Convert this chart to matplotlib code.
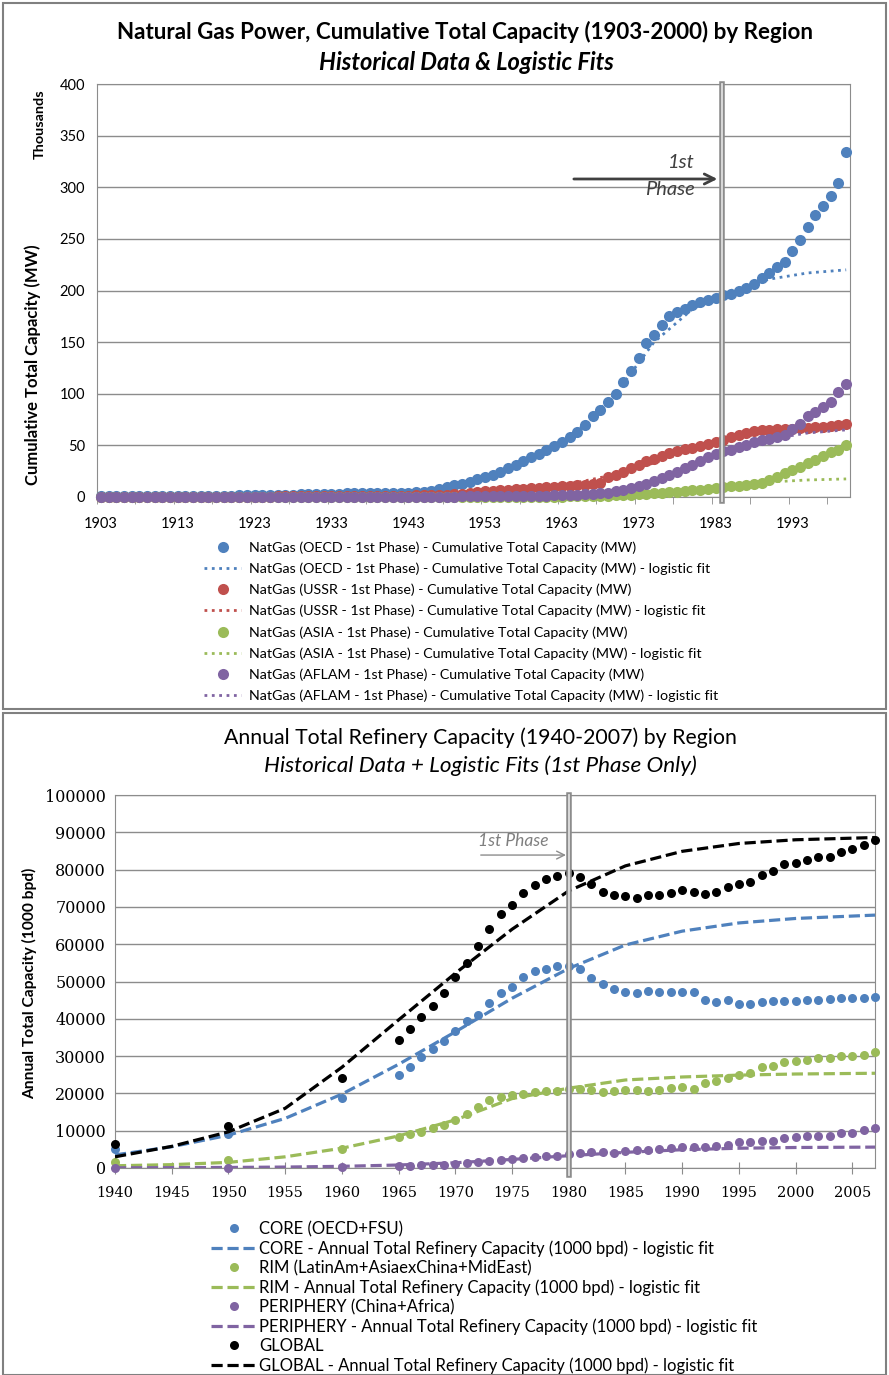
import matplotlib
matplotlib.use('Agg')
import matplotlib.pyplot as plt
from matplotlib.patches import Rectangle

# ---------------- top chart data: natural gas power (thousand MW) ----------------
gas_years = list(range(1903, 2001))

oecd = [0.5, 0.5, 0.6, 0.6, 0.7, 0.7, 0.8, 0.8, 0.9, 0.9,
        1.0, 1.0, 1.1, 1.1, 1.2, 1.2, 1.3, 1.4, 1.5, 1.6,
        1.7, 1.8, 1.9, 2.0, 2.2, 2.4, 2.6, 2.8, 3.0, 3.1,
        3.2, 3.3, 3.4, 3.5, 3.6, 3.7, 3.8, 3.9, 4.0, 4.1,
        4.3, 4.5, 5.0, 6.0, 7.5, 9.5, 11.5, 13.0, 15.0, 17.0,
        19.0, 21.0, 24.5, 28.0, 31.0, 35.0, 39.0, 42.0, 46.0, 49.5,
        53.5, 58.0, 63.0, 70.0, 78.0, 84.0, 92.0, 100.0, 111.0, 122.0,
        135.0, 149.0, 157.0, 167.0, 175.0, 179.0, 182.5, 185.5, 188.5, 190.5,
        193.0, 195.5, 197.0, 199.5, 202.5, 206.5, 212.0, 217.0, 222.5, 228.0,
        238.5, 249.0, 261.5, 273.0, 282.0, 291.5, 304.0, 334.0]
ussr = [0.2, 0.2, 0.2, 0.2, 0.2, 0.2, 0.2, 0.2, 0.2, 0.2,
        0.3, 0.3, 0.3, 0.3, 0.3, 0.3, 0.3, 0.3, 0.4, 0.4,
        0.4, 0.4, 0.4, 0.5, 0.5, 0.5, 0.5, 0.6, 0.6, 0.7,
        0.7, 0.8, 0.8, 0.9, 0.9, 1.0, 1.0, 1.1, 1.2, 1.3,
        1.4, 1.5, 1.7, 1.9, 2.1, 2.4, 2.7, 3.0, 3.5, 4.5,
        5.5, 6.0, 6.5, 7.0, 7.5, 8.0, 8.5, 9.0, 9.5, 10.0,
        10.5, 11.0, 11.5, 12.0, 13.0, 14.0, 19.5, 21.0, 24.0, 28.0,
        31.0, 35.0, 37.0, 40.0, 42.5, 45.0, 46.5, 47.5, 49.0, 51.0,
        53.5, 55.5, 58.0, 60.0, 62.0, 63.5, 64.5, 65.0, 65.5, 65.5,
        66.0, 66.5, 67.0, 67.5, 68.0, 68.5, 69.5, 70.5]
asia = [0.0] * 54 + [0.1, 0.1, 0.2,
        0.2, 0.3, 0.3, 0.4, 0.5, 0.6, 0.7, 0.8, 1.0, 1.2,
        1.5, 1.7, 2.0, 2.5, 3.0, 3.5, 4.0, 4.5, 5.0, 5.8,
        6.5, 7.2, 8.0, 8.7, 9.5, 10.2, 11.0, 11.6, 12.5, 14.0,
        16.5, 19.0, 23.0, 26.0, 29.0, 32.5, 36.0, 40.0, 43.5, 46.0, 50.0]
aflam = [0.1] * 38 + [0.2, 0.2, 0.2, 0.2, 0.3, 0.3, 0.3, 0.4, 0.4, 0.5,
         0.5, 0.6, 0.6, 0.7, 0.7, 0.8, 0.8, 0.9, 1.0, 1.0,
         1.2, 1.5, 1.8, 2.0, 2.3, 2.6, 3.0, 3.5, 4.2, 5.5,
         7.0, 8.7, 11.0, 13.0, 15.5, 18.0, 21.0, 24.0, 28.0, 31.0,
         35.0, 39.0, 42.0, 44.5, 46.0, 48.5, 50.5, 53.0, 55.0, 56.5,
         58.0, 60.0, 66.0, 71.0, 78.5, 82.5, 87.5, 92.0, 102.0, 109.0]

gas_fit_years = [1903, 1910, 1920, 1930, 1940, 1945, 1950, 1955, 1960, 1965,
                 1970, 1975, 1980, 1985, 1990, 1995, 2000]
oecd_fit = [0.3, 0.5, 0.9, 1.5, 4.0, 7.0, 13.0, 24.0, 42.0, 64.0,
            100.0, 150.0, 182.0, 200.0, 211.0, 217.0, 220.0]
ussr_fit = [0.0, 0.1, 0.2, 0.5, 1.5, 2.2, 3.5, 6.0, 9.0, 14.0,
            22.0, 33.0, 46.0, 56.0, 63.0, 67.0, 69.0]
asia_fit = [0.0, 0.0, 0.0, 0.0, 0.0, 0.0, 0.0, 0.1, 0.2, 0.6,
            1.5, 3.5, 7.0, 11.0, 14.5, 16.5, 17.5]
aflam_fit = [0.0, 0.0, 0.0, 0.1, 0.1, 0.2, 0.3, 0.6, 1.0, 2.5,
             6.0, 15.0, 30.0, 45.0, 56.0, 62.0, 65.0]

gas_names = ['OECD', 'USSR', 'ASIA', 'AFLAM']

# ---------------- bottom chart data: refinery capacity (1000 bpd) ----------------
ref_years = [1940, 1950, 1960] + list(range(1965, 2008))
core = [5000, 9100, 18700,
        24900, 27200, 29800, 31800, 34100, 36800, 39500, 41000, 44200, 47000,
        48600, 51300, 52800, 53300, 54200, 54200, 53300, 50900, 49300, 47900,
        47300, 46800, 47500, 47100, 47100, 47100, 47100, 45000, 44600, 45000,
        44100, 44100, 44600, 44800, 44800, 44800, 45000, 45000, 45200, 45700,
        45700, 45700, 45900]
rim = [1500, 2100, 5100,
       8400, 9100, 9700, 10600, 11500, 13000, 14400, 16400, 18100, 19100,
       19600, 19800, 20500, 20700, 20700, 21100, 21100, 20900, 20500, 20700,
       20900, 20900, 20700, 20900, 21400, 21600, 21100, 22700, 23400, 24000,
       24900, 25400, 27000, 27400, 28500, 28700, 29000, 29600, 29600, 30000,
       30000, 30300, 31200]
periphery = [0, 100, 300,
             500, 600, 700, 800, 900, 1100, 1400, 1500, 1900, 2100,
             2300, 2600, 2900, 3100, 3100, 3800, 4100, 4300, 4300, 4100,
             4600, 4800, 4800, 5000, 5300, 5500, 5500, 5500, 6000, 6100,
             6900, 7100, 7300, 7300, 8100, 8200, 8600, 8600, 8600, 9300,
             9500, 10200, 10600]
glob = [6400, 11300, 24100,
        34300, 37200, 40400, 43500, 46800, 51100, 55000, 59400, 64100, 68100,
        70500, 73600, 76000, 77400, 78400, 79000, 77900, 76100, 73900, 73200,
        72900, 72500, 73200, 73200, 73600, 74500, 74100, 73400, 74100, 75300,
        76100, 76600, 78600, 79600, 81500, 81700, 82600, 83300, 83300, 84800,
        85500, 86600, 87900]

ref_fit_years = [1940, 1945, 1950, 1955, 1960, 1965, 1970, 1975, 1980,
                 1985, 1990, 1995, 2000, 2007]
core_fit = [3500, 5700, 8800, 13300, 19800, 27800, 36500, 45500, 53500,
            59800, 63500, 65700, 66900, 67800]
rim_fit = [600, 900, 1500, 3000, 5300, 8600, 12900, 18600, 21400,
           23600, 24400, 24900, 25200, 25400]
periphery_fit = [50, 100, 150, 250, 450, 800, 1400, 2300, 3300,
                 4200, 4900, 5300, 5500, 5600]
glob_fit = [3000, 5800, 9700, 16000, 27000, 39700, 52200, 64000, 74300,
            81000, 84900, 87000, 88000, 88600]

ref_labels = ['CORE (OECD+FSU)',
              'CORE - Annual Total Refinery Capacity (1000 bpd) - logistic fit',
              'RIM (LatinAm+AsiaexChina+MidEast)',
              'RIM - Annual Total Refinery Capacity (1000 bpd) - logistic fit',
              'PERIPHERY (China+Africa)',
              'PERIPHERY - Annual Total Refinery Capacity (1000 bpd) - logistic fit',
              'GLOBAL',
              'GLOBAL - Annual Total Refinery Capacity (1000 bpd) - logistic fit']

BLUE, RED, GREEN, PURPLE = '#4F81BD', '#C0504D', '#9BBB59', '#8064A2'
GRID = '#8C8C8C'
SANS = ['Lato', 'DejaVu Sans']
SERIF = ['DejaVu Serif']

fig = plt.figure(figsize=(8.89, 13.75), dpi=100)

# panel frames
for y0, h in [(1 - 709 / 1375, 706 / 1375), (0.0, 1 - 713 / 1375)]:
    fig.patches.append(Rectangle((3 / 889, y0), 883 / 889, h, transform=fig.transFigure,
                                 fill=False, edgecolor='#808080', lw=1.5))

# ======================= top chart =======================
ax1 = fig.add_axes([97 / 889, 1 - 497 / 1375, 753 / 889, 413 / 1375])
handles = []
for name, col, d, f in zip(gas_names, [BLUE, RED, GREEN, PURPLE],
                           [oecd, ussr, asia, aflam],
                           [oecd_fit, ussr_fit, asia_fit, aflam_fit]):
    h1, = ax1.plot(gas_years, d, 'o', color=col, ms=8, mec='none', clip_on=False, zorder=3)
    h2, = ax1.plot(gas_fit_years, f, ':', color=col, lw=2, zorder=3)
    handles += [h1, h2]
gas_labels = []
for name in gas_names:
    gas_labels.append('NatGas (%s - 1st Phase) - Cumulative Total Capacity (MW)' % name)
    gas_labels.append('NatGas (%s - 1st Phase) - Cumulative Total Capacity (MW) - logistic fit' % name)

ax1.set_xlim(1902.5, 2000.5)
ax1.set_ylim(0, 400)
ax1.set_yticks(range(0, 401, 50))
ax1.set_xticks(range(1903, 2000, 10))
ax1.set_xticks([1902.5 + 5 * i for i in range(20)], minor=True)
ax1.tick_params(axis='x', which='major', length=0, pad=14.5)
ax1.tick_params(axis='x', which='minor', length=5, color=GRID, direction='out')
ax1.tick_params(axis='y', length=0, pad=8.5)
for lab in ax1.get_xticklabels() + ax1.get_yticklabels():
    lab.set_family(SANS)
    lab.set_fontsize(10.5)
ax1.grid(axis='y', color=GRID, lw=1)
ax1.set_axisbelow(True)
for s in ax1.spines.values():
    s.set_color(GRID)

ax1.axvline(1983.9, ymin=-0.01, color='#8C8C8C', lw=4, zorder=4, clip_on=False)
ax1.axvline(1983.9, ymin=-0.01, color='#E0E0E0', lw=1.3, zorder=5, clip_on=False)
ax1.annotate('', xy=(1983.6, 308), xytext=(1964.2, 308),
             arrowprops=dict(arrowstyle='->', color='#404040', lw=2, mutation_scale=18))
ax1.text(1980.3, 324, '1st', ha='right', va='center', style='italic', fontsize=14.5,
         color='#404040', family=SANS)
ax1.text(1980.3, 298, 'Phase', ha='right', va='center', style='italic', fontsize=14.5,
         color='#404040', family=SANS)

fig.text(465 / 889, 1 - 32 / 1375, 'Natural Gas Power, Cumulative Total Capacity (1903-2000) by Region',
         ha='center', va='center', fontsize=16.1, weight='bold', family=SANS)
fig.text(466 / 889, 1 - 62 / 1375, 'Historical Data & Logistic Fits', ha='center', va='center',
         fontsize=17, style='italic', weight='bold', family=SANS)
fig.text(33 / 889, 1 - 365 / 1375, 'Cumulative Total Capacity (MW)', rotation=90,
         ha='center', va='center', fontsize=12, weight='bold', family=SANS)
fig.text(40 / 889, 1 - 124 / 1375, 'Thousands', rotation=90, ha='center', va='center',
         fontsize=10.4, weight='bold', family=SANS)

fig.legend(handles, gas_labels, loc='upper left', bbox_to_anchor=(204 / 889, 1 - 541 / 1375),
           frameon=False, borderpad=0, borderaxespad=0, handlelength=2.6, handletextpad=0.55,
           labelspacing=0.61, prop={'family': SANS, 'size': 10.3})

# ======================= bottom chart =======================
ax2 = fig.add_axes([115 / 889, 1 - 1168 / 1375, 760 / 889, 373 / 1375])
handles = []
for col, d, f in zip([BLUE, GREEN, PURPLE, 'black'],
                     [core, rim, periphery, glob],
                     [core_fit, rim_fit, periphery_fit, glob_fit]):
    h1, = ax2.plot(ref_years, d, 'o', color=col, ms=6.5, mec='none', clip_on=False, zorder=3)
    h2, = ax2.plot(ref_fit_years, f, color=col, lw=2.3, ls=(0, (3.5, 1.5)), zorder=3)
    handles += [h1, h2]

ax2.set_xlim(1940, 2007)
ax2.set_ylim(0, 100000)
ax2.set_yticks(range(0, 100001, 10000))
ax2.set_xticks(range(1940, 2007, 5))
ax2.tick_params(axis='x', length=8, color=GRID, direction='inout', pad=9)
ax2.tick_params(axis='y', length=0, pad=6.5)
for lab in ax2.get_xticklabels():
    lab.set_family(SERIF)
    lab.set_fontsize(10.5)
for lab in ax2.get_yticklabels():
    lab.set_family(SERIF)
    lab.set_fontsize(11.5)
ax2.grid(axis='y', color=GRID, lw=1)
ax2.set_axisbelow(True)
for s in ax2.spines.values():
    s.set_color(GRID)

ax2.axvline(1980, ymin=-0.02, color='#8C8C8C', lw=4, zorder=4, clip_on=False)
ax2.axvline(1980, ymin=-0.02, color='#E0E0E0', lw=1.3, zorder=5, clip_on=False)
ax2.annotate('', xy=(1980, 83900), xytext=(1972, 83900),
             arrowprops=dict(arrowstyle='->', color='#8C8C8C', lw=1, mutation_scale=14))
ax2.text(1972, 87700, '1st Phase', ha='left', va='center', style='italic', fontsize=12.5,
         color='#7F7F7F', family=SANS)

fig.text(480 / 889, 1 - 738 / 1375, 'Annual Total Refinery Capacity (1940-2007) by Region',
         ha='center', va='center', fontsize=15.3, family=SANS)
fig.text(480 / 889, 1 - 766 / 1375, 'Historical Data + Logistic Fits (1st Phase Only)', ha='center',
         va='center', fontsize=16.2, style='italic', family=SANS)
fig.text(30 / 889, 1 - 983 / 1375, 'Annual Total Capacity (1000 bpd)', rotation=90,
         ha='center', va='center', fontsize=11.2, weight='bold', family=SANS)

fig.legend(handles, ref_labels, loc='upper left', bbox_to_anchor=(211 / 889, 1 - 1221 / 1375),
           frameon=False, borderpad=0, borderaxespad=0, handlelength=2.7, handletextpad=0.2,
           labelspacing=0.19, prop={'family': SANS, 'size': 12})

fig.savefig('out.png', dpi=100)
